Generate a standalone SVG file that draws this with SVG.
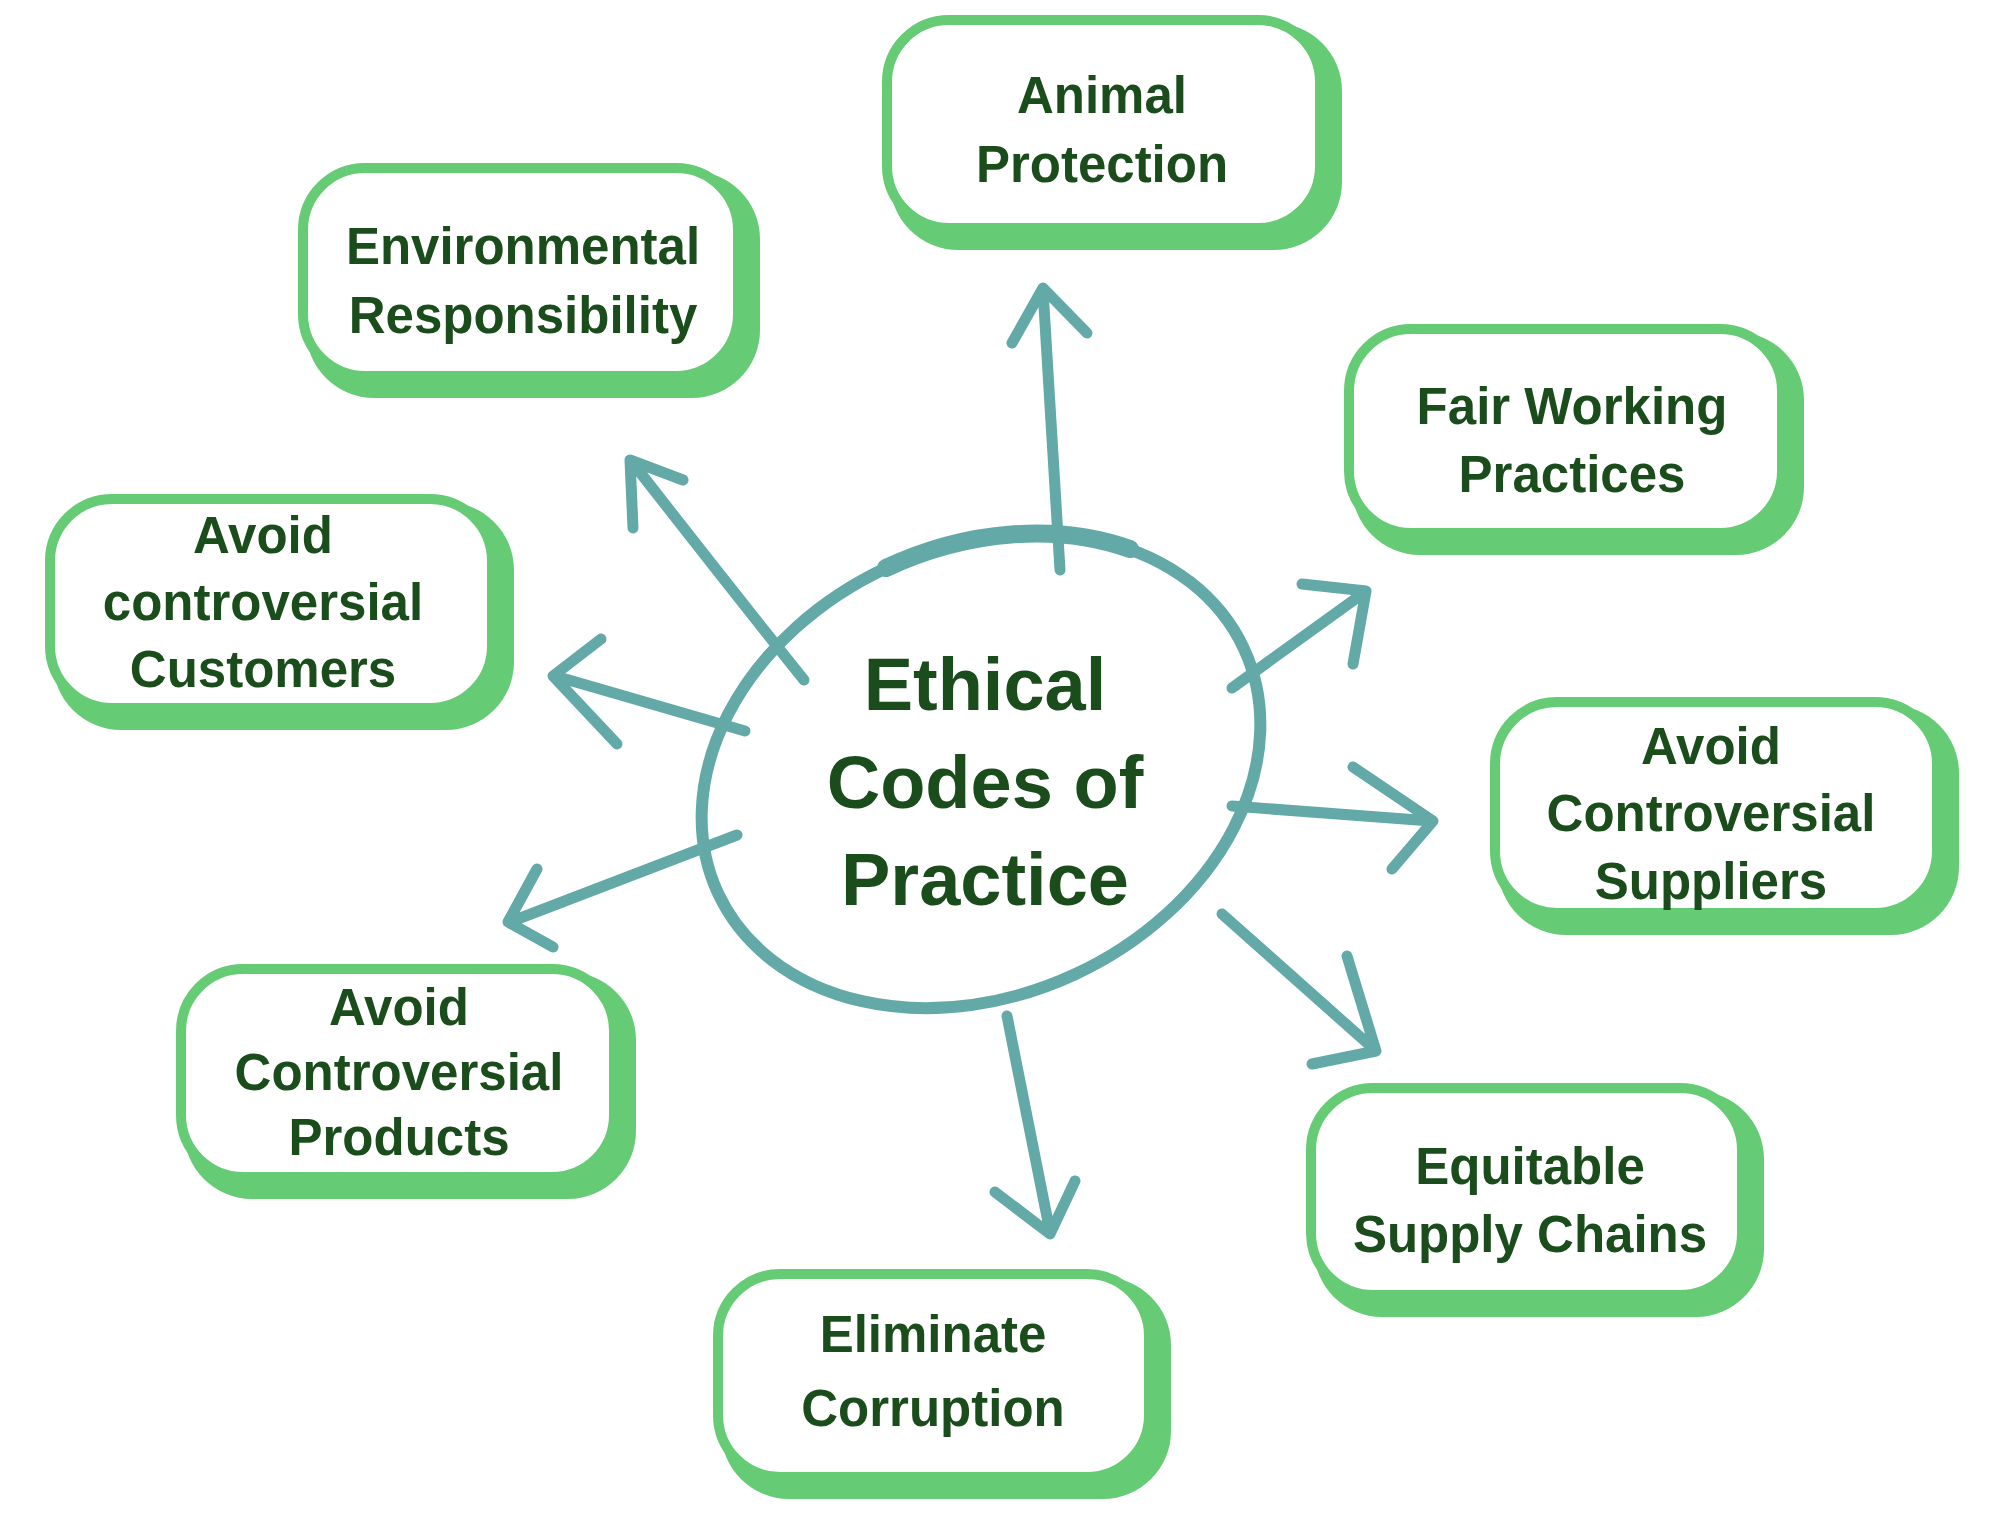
<svg xmlns="http://www.w3.org/2000/svg" width="2004" height="1520" viewBox="0 0 2004 1520">
<style>
.sh{fill:#66cb75}
.bx{fill:#ffffff;stroke:#66cb75;stroke-width:10}
.t{font-family:"Liberation Sans",Arial,sans-serif;font-weight:bold;font-size:51px;fill:#1a4d1b;text-anchor:middle}
.tc{font-family:"Liberation Sans",Arial,sans-serif;font-weight:bold;font-size:74px;fill:#1a4d1b;text-anchor:middle}
.c{fill:none;stroke:#62a9a7;stroke-width:11;stroke-linecap:round;stroke-linejoin:round}
</style>
<rect width="2004" height="1520" fill="#ffffff"/>
<g id="center">
<ellipse cx="981" cy="771" rx="290" ry="224" transform="rotate(-25 981 771)" fill="#ffffff" stroke="#62a9a7" stroke-width="12"/>
<path d="M 886 568 A 290 224 -25 0 1 1130 549" fill="none" stroke="#62a9a7" stroke-width="18" stroke-linecap="round"/>
<text class="tc" x="985" y="710">Ethical</text>
<text class="tc" x="985" y="808">Codes of</text>
<text class="tc" x="985" y="905">Practice</text>
</g>
<g id="connectors">
<path class="c" d="M1060 570 L1043 290 M1012 343 L1043 288 L1087 333"/>
<path class="c" d="M804 680 Q 720 575 632 462 M633 528 L630 460 L683 480"/>
<path class="c" d="M745 731 L555 676 M601 639 L553 676 L617 744"/>
<path class="c" d="M737 835 L510 922 M537 869 L508 922 L553 947"/>
<path class="c" d="M1007 1016 L1050 1232 M995 1192 L1050 1234 L1075 1181"/>
<path class="c" d="M1222 914 L1375 1050 M1347 956 L1376 1051 L1312 1064"/>
<path class="c" d="M1232 806 L1431 821 M1353 767 L1433 821 L1392 869"/>
<path class="c" d="M1232 688 L1365 592 M1302 584 L1366 591 L1353 664"/>
</g>
<g id="env">
<rect class="sh" x="306" y="171" width="454" height="227" rx="68"/>
<rect class="bx" x="303" y="168" width="435" height="208" rx="62"/>
<text class="t" x="523" y="264">Environmental</text>
<text class="t" x="523" y="333">Responsibility</text>
</g>
<g id="animal">
<rect class="sh" x="890" y="23" width="452" height="227" rx="68"/>
<rect class="bx" x="887" y="20" width="433" height="208" rx="62"/>
<text class="t" x="1102" y="113">Animal</text>
<text class="t" x="1102" y="182">Protection</text>
</g>
<g id="fair">
<rect class="sh" x="1352" y="332" width="452" height="223" rx="68"/>
<rect class="bx" x="1349" y="329" width="433" height="204" rx="62"/>
<text class="t" x="1572" y="424">Fair Working</text>
<text class="t" x="1572" y="492">Practices</text>
</g>
<g id="customers">
<rect class="sh" x="53" y="502" width="461" height="228" rx="68"/>
<rect class="bx" x="50" y="499" width="442" height="209" rx="62"/>
<text class="t" x="263" y="553">Avoid</text>
<text class="t" x="263" y="620">controversial</text>
<text class="t" x="263" y="687">Customers</text>
</g>
<g id="suppliers">
<rect class="sh" x="1498" y="705" width="461" height="230" rx="68"/>
<rect class="bx" x="1495" y="702" width="442" height="211" rx="62"/>
<text class="t" x="1711" y="764">Avoid</text>
<text class="t" x="1711" y="831">Controversial</text>
<text class="t" x="1711" y="899">Suppliers</text>
</g>
<g id="products">
<rect class="sh" x="184" y="972" width="452" height="227" rx="68"/>
<rect class="bx" x="181" y="969" width="433" height="208" rx="62"/>
<text class="t" x="399" y="1025">Avoid</text>
<text class="t" x="399" y="1090">Controversial</text>
<text class="t" x="399" y="1155">Products</text>
</g>
<g id="equitable">
<rect class="sh" x="1314" y="1091" width="450" height="226" rx="68"/>
<rect class="bx" x="1311" y="1088" width="431" height="207" rx="62"/>
<text class="t" x="1530" y="1184">Equitable</text>
<text class="t" x="1530" y="1252">Supply Chains</text>
</g>
<g id="corruption">
<rect class="sh" x="721" y="1277" width="450" height="222" rx="68"/>
<rect class="bx" x="718" y="1274" width="431" height="203" rx="62"/>
<text class="t" x="933" y="1352">Eliminate</text>
<text class="t" x="933" y="1426">Corruption</text>
</g>
</svg>
